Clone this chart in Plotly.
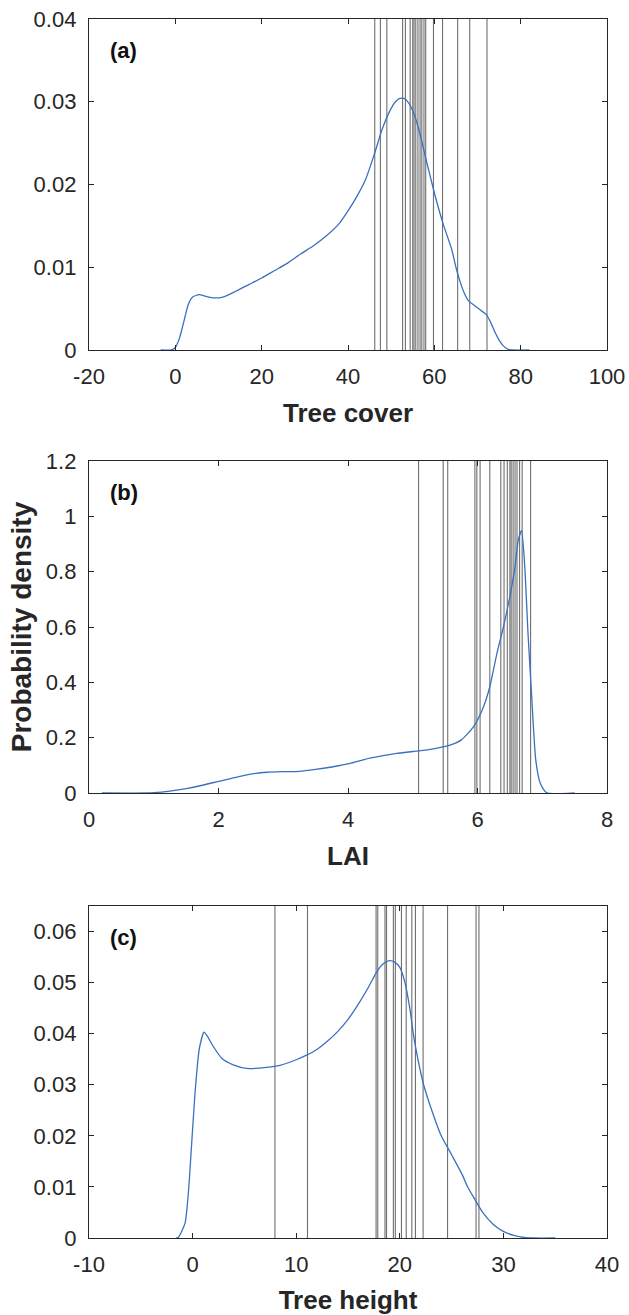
import plotly.graph_objects as go
from plotly.subplots import make_subplots

# ---------------- data ----------------
# Panel (a) Tree cover
a_x = [-3.4, -1, 0, 1, 2, 3, 4, 5.5, 7, 9, 11, 14, 17, 20, 23, 26, 29, 32, 35, 38, 40, 42, 44, 46, 48,
       50, 51, 52, 53, 54, 55, 56, 57, 58, 60, 62, 64, 65, 66, 67, 68, 69, 70, 71, 72, 73, 74, 75, 76, 77, 78, 82]
a_y = [0, 0, 0.0003, 0.0015, 0.0035, 0.0055, 0.0064, 0.0067, 0.0065, 0.0063, 0.0064, 0.0071, 0.0079, 0.0087,
       0.0096, 0.0105, 0.0116, 0.0126, 0.0138, 0.0153, 0.0168, 0.0185, 0.0205, 0.0235, 0.0268,
       0.0292, 0.0300, 0.0304, 0.0304, 0.0299, 0.0289, 0.0274, 0.0254, 0.0232, 0.0190, 0.0153, 0.0122, 0.0100,
       0.0082, 0.0068, 0.0059, 0.0055, 0.0051, 0.0047, 0.0043, 0.0034, 0.0022, 0.0012, 0.0005, 0.0001, 0, 0]
a_lines = [46.2, 47.5, 49.0, 52.65, 53.3, 54.4, 55.0, 55.3, 55.7, 56.2, 56.7, 57.1, 57.6, 58.0,
           59.8, 61.9, 65.4, 68.2, 72.2]

# Panel (b) LAI
b_x = [0.2, 0.9, 1.0, 1.25, 1.5, 1.75, 2.0, 2.25, 2.5, 2.75, 3.0, 3.25, 3.5, 3.75, 4.0, 4.25, 4.5, 4.75,
       5.0, 5.25, 5.575, 5.75, 5.94, 6.09, 6.19, 6.30, 6.40, 6.50, 6.58, 6.63, 6.68, 6.73, 6.78,
       6.84, 6.90, 6.97, 7.07, 7.5]
b_y = [0, 0, 0.001, 0.007, 0.016, 0.028, 0.042, 0.056, 0.068, 0.075, 0.077, 0.078, 0.085, 0.094, 0.105,
       0.121, 0.133, 0.143, 0.150, 0.157, 0.173, 0.192, 0.24, 0.31, 0.384, 0.505, 0.60, 0.71, 0.818,
       0.914, 0.948, 0.818, 0.577, 0.336, 0.119, 0.035, 0.001, 0]
b_lines = [5.09, 5.47, 5.54, 5.96, 5.99, 6.04, 6.19, 6.36, 6.41, 6.46, 6.50, 6.52, 6.55, 6.58,
           6.61, 6.65, 6.69, 6.82]

# Panel (c) Tree height
c_x = [-1.6, -1.38, -0.73, -0.41, -0.09, 0.23, 0.45, 0.65, 1.10, 1.36, 2.0, 2.81, 3.93, 5.22, 7.15, 8.44,
       10.0, 11, 12, 13, 14, 15, 16, 17, 17.8, 18.4, 19.0, 19.5, 20, 20.5, 21, 21.3, 21.8, 22.3, 23,
       24, 25, 26, 26.55, 27, 28, 29, 30, 31, 32, 33, 35]
c_y = [0, 0.0001, 0.0029, 0.0088, 0.0185, 0.0283, 0.0335, 0.0371, 0.0403, 0.0397, 0.0375, 0.0352,
       0.0339, 0.0332, 0.0334, 0.0338, 0.0349, 0.0358, 0.0369, 0.0385, 0.0404, 0.0428, 0.0458, 0.0492,
       0.0522, 0.0537, 0.0543, 0.0540, 0.0530, 0.0500, 0.0445, 0.0400, 0.0345,
       0.0300, 0.0255, 0.0200, 0.0163, 0.0125, 0.0100, 0.0084, 0.0050, 0.0027, 0.0013, 0.0005, 0.0001, 0, 0]
c_lines = [7.95, 11.09, 17.71, 17.87, 18.57, 18.72, 19.38, 19.57, 20.16, 20.62, 21.16, 21.51,
           22.25, 24.61, 27.36, 27.64]

panels = [
    dict(x=a_x, y=a_y, lines=a_lines, xr=[-20, 100], yr=[0, 0.04],
         xt=[-20, 0, 20, 40, 60, 80, 100], xtt=["-20", "0", "20", "40", "60", "80", "100"],
         yt=[0, 0.01, 0.02, 0.03, 0.04], ytt=["0", "0.01", "0.02", "0.03", "0.04"],
         xtitle="Tree cover", ytitle="", tag="(a)"),
    dict(x=b_x, y=b_y, lines=b_lines, xr=[0, 8], yr=[0, 1.2],
         xt=[0, 2, 4, 6, 8], xtt=["0", "2", "4", "6", "8"],
         yt=[0, 0.2, 0.4, 0.6, 0.8, 1.0, 1.2], ytt=["0", "0.2", "0.4", "0.6", "0.8", "1", "1.2"],
         xtitle="LAI", ytitle="Probability density", tag="(b)"),
    dict(x=c_x, y=c_y, lines=c_lines, xr=[-10, 40], yr=[0, 0.065],
         xt=[-10, 0, 10, 20, 30, 40], xtt=["-10", "0", "10", "20", "30", "40"],
         yt=[0, 0.01, 0.02, 0.03, 0.04, 0.05, 0.06], ytt=["0", "0.01", "0.02", "0.03", "0.04", "0.05", "0.06"],
         xtitle="Tree height", ytitle="", tag="(c)"),
]

W, H = 629, 1315
mt, mb = 19, 77
ph = H - mt - mb
def frac(p):
    return (1238 - p) / ph

ydoms = [[frac(350), 1.0], [frac(793), frac(461)], [0.0, frac(906)]]

fig = make_subplots(rows=3, cols=1)

AX = "#262626"
FONT = "Liberation Sans, Arial, sans-serif"

for i, p in enumerate(panels, start=1):
    vx, vy = [], []
    for v in p["lines"]:
        vx += [v, v, None]
        vy += [p["yr"][0], p["yr"][1], None]
    fig.add_trace(go.Scatter(x=vx, y=vy, mode="lines",
                             line=dict(color="rgba(50,50,50,0.7)", width=1.1),
                             hoverinfo="skip", showlegend=False), row=i, col=1)
    fig.add_trace(go.Scatter(x=p["x"], y=p["y"], mode="lines",
                             line=dict(color="#3A70C0", width=1.3, shape="spline", smoothing=0.6),
                             showlegend=False), row=i, col=1)
    fig.update_xaxes(row=i, col=1, range=p["xr"], tickvals=p["xt"], ticktext=p["xtt"],
                     automargin=False,
                     ticks="inside", ticklen=5, tickcolor=AX, mirror="ticks", showline=True,
                     linecolor=AX, linewidth=1.3, showgrid=False, zeroline=False,
                     ticklabelstandoff=6,
                     tickfont=dict(family=FONT, size=22, color=AX),
                     title=dict(text="<b>%s</b>" % p["xtitle"], font=dict(family=FONT, size=26, color=AX),
                                standoff=16))
    fig.update_yaxes(row=i, col=1, range=p["yr"], tickvals=p["yt"], ticktext=p["ytt"],
                     domain=ydoms[i - 1], automargin=False,
                     ticks="inside", ticklen=5, tickcolor=AX, mirror="ticks", showline=True,
                     linecolor=AX, linewidth=1.3, showgrid=False, zeroline=False,
                     ticklabelstandoff=7,
                     tickfont=dict(family=FONT, size=22, color=AX),
                     title=dict(text="<b>%s</b>" % p["ytitle"] if p["ytitle"] else "",
                                font=dict(family=FONT, size=28, color=AX), standoff=6))
    xref = "x domain" if i == 1 else "x%d domain" % i
    yref = "y domain" if i == 1 else "y%d domain" % i
    fig.add_annotation(xref=xref, yref=yref, x=0.036, y=0.905, xanchor="left", yanchor="middle",
                       text="<b>%s</b>" % p["tag"], showarrow=False,
                       font=dict(family=FONT, size=22, color="#111111"))

fig.update_layout(width=W, height=H, margin=dict(l=89, r=22, t=mt, b=mb),
                  paper_bgcolor="white", plot_bgcolor="white", showlegend=False)

fig.write_html("out.html", config={"displayModeBar": False},
               post_script="document.body.style.margin='0';document.body.style.overflow='hidden';")
